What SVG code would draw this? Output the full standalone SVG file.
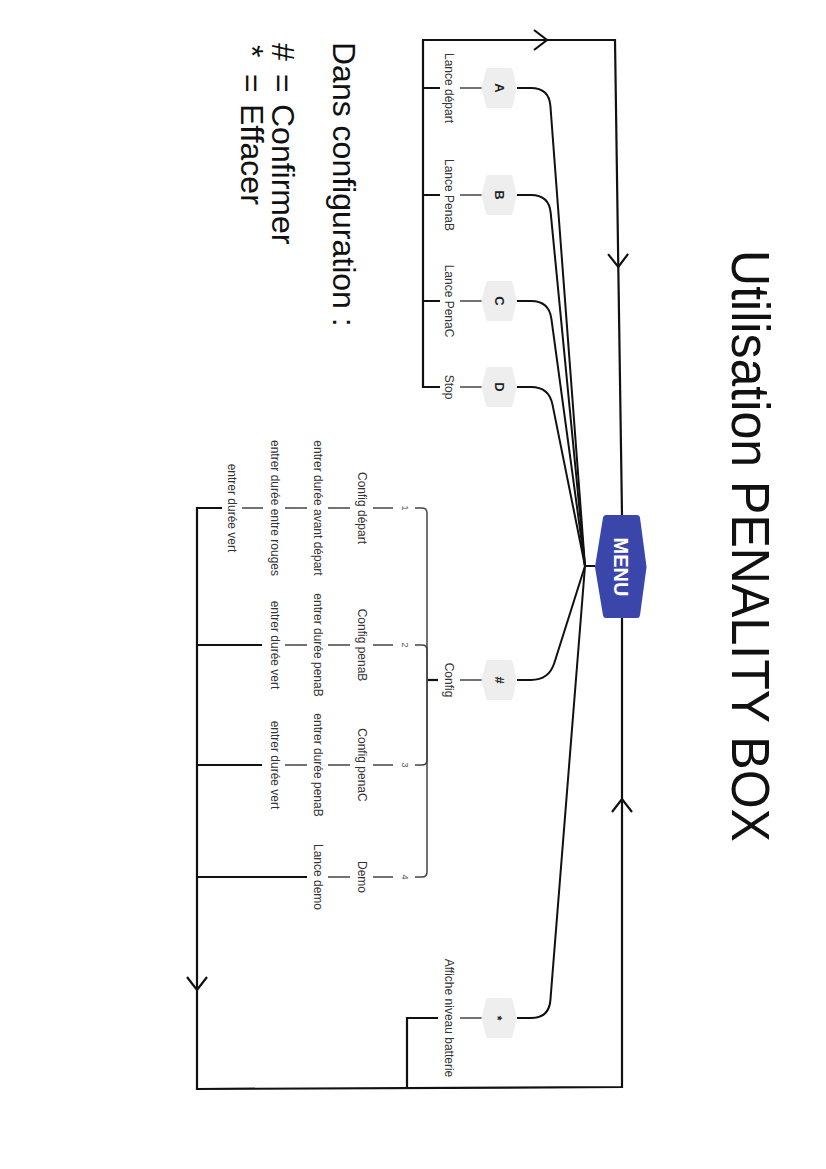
<svg xmlns="http://www.w3.org/2000/svg" width="826" height="1169" viewBox="0 0 826 1169">
<defs>
<style>
 text { font-family: "Liberation Sans", Arial, sans-serif; }
 .title { font-size: 54px; fill: #111; }
 .note { font-size: 32px; fill: #111; }
 .lbl { font-size: 12px; fill: #333; text-anchor: middle; }
 .num { font-size: 9px; fill: #555; text-anchor: middle; }
 .key { font-size: 13px; font-weight: bold; fill: #222; text-anchor: middle; }
 .menu-t { font-size: 20px; font-weight: bold; fill: #ffffff; text-anchor: middle; }
 .gnode { fill: #eeeeee; stroke: #eeeeee; stroke-width: 4; stroke-linejoin: round; }
 .menu { fill: #3A46A9; stroke: #3A46A9; stroke-width: 6; stroke-linejoin: round; }
 .thin { fill: none; stroke: #444; stroke-width: 1.5; }
 .bold { fill: none; stroke: #111; stroke-width: 2.2; }
 .curve { fill: none; stroke: #111; stroke-width: 2; }
</style>
<marker id="chev" viewBox="0 0 16 22" refX="14" refY="11" markerWidth="16" markerHeight="22" markerUnits="userSpaceOnUse" orient="auto">
 <path d="M1 1 L14 11 L1 21" fill="none" stroke="#111" stroke-width="2.2"/>
</marker>
<polygon id="hexg" points="0,311 18,315.5 18,338 0,342.5 -18,338 -18,315.5"/>
</defs>
<rect width="826" height="1169" fill="#ffffff"/>
<g transform="translate(826,0) rotate(90)">
 <g id="title">
  <text class="title" x="250" y="94" textLength="592" lengthAdjust="spacingAndGlyphs">Utilisation PENALITY BOX</text>
 </g>
 <g id="notes">
  <text class="note" x="42" y="493">Dans configuration :</text>
  <text class="note" y="554"><tspan x="43">#</tspan><tspan x="74">=</tspan><tspan x="104">Confirmer</tspan></text>
  <text class="note" y="585"><tspan x="45">*</tspan><tspan x="74">=</tspan><tspan x="104">Effacer</tspan></text>
 </g>

 <g id="connectors">
  <!-- MENU to keys -->
  <path class="curve" d="M566 231 L566 241"/>
  <path class="curve" d="M88 309 L88 295 Q88 277 105.9 275.6 L566 241"/>
  <path class="curve" d="M195 309 L195 295 Q195 277 212.9 275.3 L566 241"/>
  <path class="curve" d="M301 309 L301 295 Q301 277 318.8 274.6 L566 241"/>
  <path class="curve" d="M387 309 L387 295 Q387 277 404.6 273.5 L566 241"/>
  <path class="curve" d="M680 309 L680 295 Q680 277 662.8 271.6 L566 241"/>
  <path class="curve" d="M1018 309 L1018 295 Q1018 277 1000.1 275.6 L566 241"/>
  <!-- keys to labels -->
  <path class="thin" d="M88 344 L88 366 M195 344 L195 366 M301 344 L301 366 M387 344 L387 366 M680 344 L680 366 M1018 344 L1018 366"/>
  <!-- A-D rail and return loop -->
  <path class="bold" d="M88 386 L88 403 M195 386 L195 403 M301 386 L301 403"/>
  <path class="bold" d="M387 386 L387 403 L40 403 L40 279" marker-end="url(#chev)"/>
  <path class="bold" d="M40 279 L40 211 L267 207.7" marker-end="url(#chev)"/>
  <path class="bold" d="M267 207.7 L515 204"/>
  <!-- Config bracket -->
  <path class="bold" d="M680 388 L680 399"/>
  <path class="thin" d="M680 399 L513 399 Q508 399 508 404 L508 411"/>
  <path class="thin" d="M680 399 L650 399 Q645 399 645 404 L645 411"/>
  <path class="thin" d="M680 399 L760 399 Q765 399 765 404 L765 411"/>
  <path class="thin" d="M680 399 L872 399 Q877 399 877 404 L877 411"/>
  <!-- branch chains -->
  <path class="thin" d="M508 433 L508 453 M508 476 L508 498 M508 519 L508 541 M508 563 L508 584"/>
  <path class="thin" d="M645 433 L645 453 M645 476 L645 498 M645 519 L645 541"/>
  <path class="thin" d="M765 433 L765 453 M765 476 L765 498 M765 519 L765 541"/>
  <path class="thin" d="M877 433 L877 453 M877 476 L877 498"/>
  <path class="bold" d="M645 564 L645 629 M765 564 L765 629 M877 519 L877 629"/>
  <!-- config return rail -->
  <path class="bold" d="M508 604 L508 629 L990 629" marker-end="url(#chev)"/>
  <path class="bold" d="M990 629 L1089 629 L1087 204 L799 204" marker-end="url(#chev)"/>
  <path class="bold" d="M799 204 L618 204"/>
  <!-- battery branch -->
  <path class="bold" d="M1018 388 L1018 419 L1088 419"/>
 </g>

 <g id="node-menu">
  <polygon class="menu" points="518,189 567,182.5 615,189 615,220 567,228 518,220"/>
  <text class="menu-t" x="567" y="212">MENU</text>
 </g>
 <g id="node-A" transform="translate(88,0)"><use href="#hexg" class="gnode"/><text class="key" x="0" y="331">A</text></g>
 <g id="node-B" transform="translate(195,0)"><use href="#hexg" class="gnode"/><text class="key" x="0" y="331">B</text></g>
 <g id="node-C" transform="translate(301,0)"><use href="#hexg" class="gnode"/><text class="key" x="0" y="331">C</text></g>
 <g id="node-D" transform="translate(387,0)"><use href="#hexg" class="gnode"/><text class="key" x="0" y="331">D</text></g>
 <g id="node-hash" transform="translate(680,0)"><use href="#hexg" class="gnode"/><text class="key" x="0" y="331">#</text></g>
 <g id="node-star" transform="translate(1018,0)"><use href="#hexg" class="gnode"/><text class="key" x="0" y="333.5" style="font-size:12px">*</text></g>

 <g id="labels">
  <text class="lbl" x="88" y="381">Lance départ</text>
  <text class="lbl" x="195" y="381">Lance PenaB</text>
  <text class="lbl" x="301" y="381">Lance PenaC</text>
  <text class="lbl" x="387" y="381">Stop</text>
  <text class="lbl" x="680" y="381">Config</text>
  <text class="lbl" x="1018" y="381">Affiche niveau batterie</text>
 </g>
 <g id="branch-1">
  <text class="num" x="508" y="424">1</text>
  <text class="lbl" x="508" y="468">Config départ</text>
  <text class="lbl" x="508" y="512">entrer durée avant départ</text>
  <text class="lbl" x="508" y="555">entrer durée entre rouges</text>
  <text class="lbl" x="508" y="598">entrer durée vert</text>
 </g>
 <g id="branch-2">
  <text class="num" x="645" y="424">2</text>
  <text class="lbl" x="645" y="468">Config penaB</text>
  <text class="lbl" x="645" y="512">entrer durée penaB</text>
  <text class="lbl" x="645" y="555">entrer durée vert</text>
 </g>
 <g id="branch-3">
  <text class="num" x="765" y="424">3</text>
  <text class="lbl" x="765" y="468">Config penaC</text>
  <text class="lbl" x="765" y="512">entrer durée penaB</text>
  <text class="lbl" x="765" y="555">entrer durée vert</text>
 </g>
 <g id="branch-4">
  <text class="num" x="877" y="424">4</text>
  <text class="lbl" x="877" y="468">Demo</text>
  <text class="lbl" x="877" y="512">Lance demo</text>
 </g>
</g>
</svg>
